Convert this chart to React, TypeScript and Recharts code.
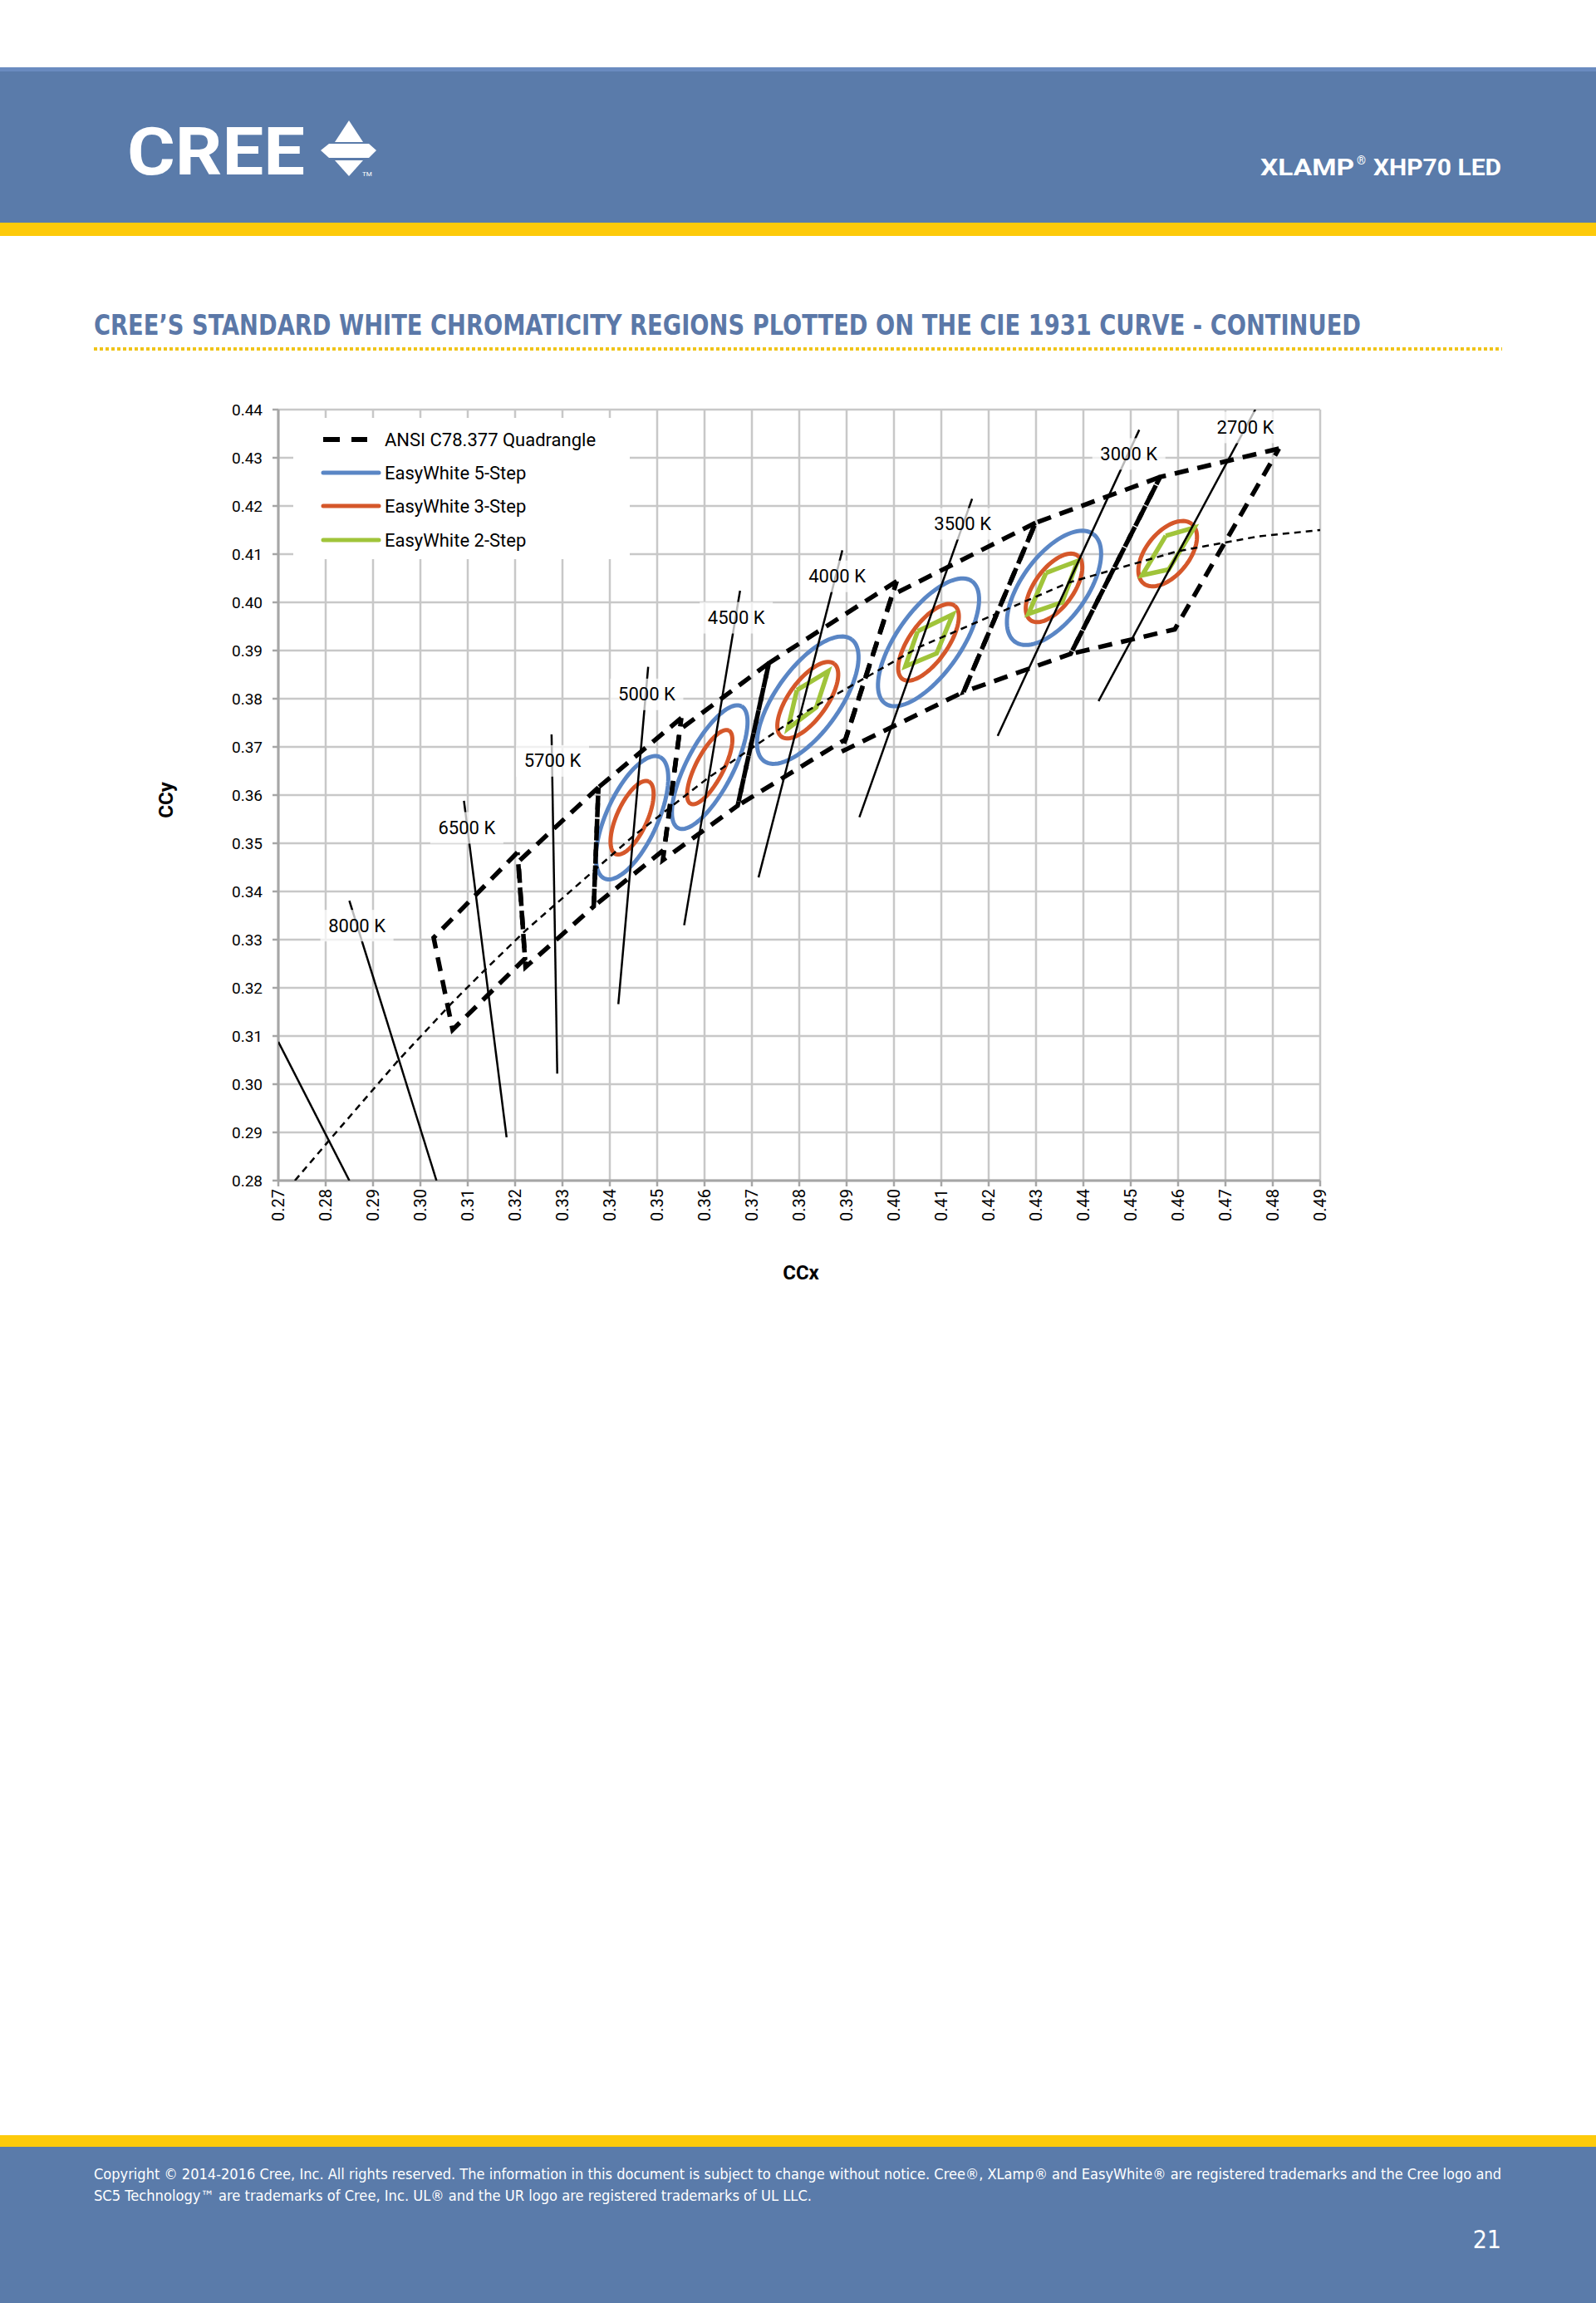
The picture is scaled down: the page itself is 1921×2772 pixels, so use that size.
import React from 'react';
import { ScatterChart, Scatter, XAxis, YAxis, CartesianGrid } from 'recharts';

// ---------- axis ticks ----------
const xTicks = [0.27, 0.28, 0.29, 0.30, 0.31, 0.32, 0.33, 0.34, 0.35, 0.36, 0.37, 0.38, 0.39, 0.40, 0.41, 0.42, 0.43, 0.44, 0.45, 0.46, 0.47, 0.48, 0.49];
const yTicks = [0.28, 0.29, 0.30, 0.31, 0.32, 0.33, 0.34, 0.35, 0.36, 0.37, 0.38, 0.39, 0.40, 0.41, 0.42, 0.43, 0.44];

// ---------- ANSI C78.377 quadrangles (corners: x, y) ----------
const quad6500 = [[0.3205, 0.3481], [0.3028, 0.3304], [0.3068, 0.3113], [0.3221, 0.3261]];
const quad5700 = [[0.3376, 0.3616], [0.3207, 0.3462], [0.3222, 0.3243], [0.3366, 0.3369]];
const quad5000 = [[0.3551, 0.3760], [0.3376, 0.3616], [0.3366, 0.3369], [0.3515, 0.3487]];
const quad4500 = [[0.3736, 0.3874], [0.3548, 0.3736], [0.3512, 0.3465], [0.3670, 0.3578]];
const quad4000 = [[0.4006, 0.4044], [0.3736, 0.3874], [0.3670, 0.3578], [0.3898, 0.3716]];
const quad3500 = [[0.4299, 0.4165], [0.3996, 0.4015], [0.3889, 0.3690], [0.4147, 0.3814]];
const quad3000 = [[0.4562, 0.4260], [0.4299, 0.4165], [0.4147, 0.3814], [0.4373, 0.3893]];
const quad2700 = [[0.4813, 0.4319], [0.4562, 0.4260], [0.4373, 0.3893], [0.4593, 0.3944]];
const ansiQuads = [quad6500, quad5700, quad5000, quad4500, quad4000, quad3500, quad3000, quad2700];

// ---------- isotherm (CCT) lines: [x1, y1, x2, y2] ----------
const iso10000 = [0.2700, 0.3088, 0.2850, 0.2800];
const iso8000 = [0.2850, 0.3381, 0.3034, 0.2800];
const iso6500 = [0.3092, 0.3588, 0.3182, 0.2890];
const iso5700 = [0.3277, 0.3726, 0.3289, 0.3022];
const iso5000 = [0.3481, 0.3866, 0.3418, 0.3166];
const iso4500 = [0.3675, 0.4024, 0.3557, 0.3330];
const iso4000 = [0.3891, 0.4108, 0.3714, 0.3429];
const iso3500 = [0.4165, 0.4215, 0.3927, 0.3554];
const iso3000 = [0.4518, 0.4358, 0.4219, 0.3723];
const iso2700 = [0.4763, 0.4400, 0.4432, 0.3795];
const isoLines = [iso10000, iso8000, iso6500, iso5700, iso5000, iso4500, iso4000, iso3500, iso3000, iso2700];

// ---------- Planckian (black body) locus ----------
const planckX = [0.2735, 0.2807, 0.2952, 0.3064, 0.3135, 0.3221, 0.3451, 0.3608, 0.3805, 0.4053, 0.4369, 0.4599, 0.4770, 0.4900];
const planckY = [0.2800, 0.2883, 0.3048, 0.3166, 0.3236, 0.3318, 0.3516, 0.3636, 0.3768, 0.3907, 0.4041, 0.4106, 0.4137, 0.4150];

// ---------- EasyWhite ellipses: center, semi-axes, tilt (deg) ----------
const fiveStepCx = [0.3447, 0.3611, 0.3818, 0.4073, 0.4338];
const fiveStepCy = [0.3553, 0.3658, 0.3797, 0.3917, 0.4030];
const fiveStepA = [0.0139, 0.0143, 0.01565, 0.01565, 0.0139];
const fiveStepB = [0.0054, 0.0049, 0.0067, 0.0067, 0.0068];
const fiveStepAngle = [65, 62, 53.7, 54, 53.2];

const threeStepCx = [0.3447, 0.3611, 0.3818, 0.4073, 0.4338, 0.4578];
const threeStepCy = [0.3553, 0.3658, 0.3797, 0.3917, 0.4030, 0.4101];
const threeStepA = [0.0083, 0.0086, 0.00939, 0.00939, 0.00834, 0.0080];
const threeStepB = [0.0032, 0.0029, 0.00402, 0.00402, 0.00408, 0.0045];
const threeStepAngle = [65, 62, 53.7, 54, 53.2, 50];

// ---------- EasyWhite 2-step quadrangles ----------
const twoStep4000 = [[0.3795, 0.3818], [0.3861, 0.3857], [0.3836, 0.3782], [0.3776, 0.3738]];
const twoStep3500 = [[0.4050, 0.3940], [0.4124, 0.3975], [0.4090, 0.3894], [0.4024, 0.3867]];
const twoStep3000 = [[0.4321, 0.4061], [0.4388, 0.4086], [0.4355, 0.4000], [0.4284, 0.3976]];
const twoStep2700 = [[0.4574, 0.4138], [0.4634, 0.4155], [0.4580, 0.4068], [0.4524, 0.4056]];
const twoStepQuads = [twoStep4000, twoStep3500, twoStep3000, twoStep2700];

// ---------- CCT labels ----------
const cctLabels = ['8000 K', '6500 K', '5700 K', '5000 K', '4500 K', '4000 K', '3500 K', '3000 K', '2700 K'];
const cctLabelX = [0.2866, 0.3098, 0.3279, 0.3478, 0.3667, 0.3880, 0.4145, 0.4496, 0.4742];
const cctLabelY = [0.3329, 0.3532, 0.3671, 0.3809, 0.3968, 0.4054, 0.4163, 0.4308, 0.4363];

// ---------- colours / fonts ----------
const BLUE = '#5A86C5';
const ORANGE = '#D5572A';
const GREEN = '#A0C43A';
const HEADER_BLUE = '#5A7BAA';
const YELLOW = '#FDCA0B';
const FONT = "Roboto, 'Liberation Sans', Arial, sans-serif";
const NARROW = "'Liberation Sans Narrow', 'DejaVu Sans Condensed', Roboto, sans-serif";

const toPts = (arr: number[][], close = true) => {
  const p = arr.map(([x, y]) => ({ x, y }));
  if (close) p.push({ x: arr[0][0], y: arr[0][1] });
  return p;
};

const ellipseOutline = (cx: number, cy: number, a: number, b: number, angle: number) => {
  const th = (angle * Math.PI) / 180;
  const pts: { x: number; y: number }[] = [];
  const n = 90;
  for (let i = 0; i <= n; i++) {
    const t = (i / n) * 2 * Math.PI;
    pts.push({
      x: cx + a * Math.cos(th) * Math.cos(t) - b * Math.sin(th) * Math.sin(t),
      y: cy + a * Math.sin(th) * Math.cos(t) + b * Math.cos(th) * Math.sin(t),
    });
  }
  return pts;
};

const fiveStepData = fiveStepCx.map((cx, i) => ellipseOutline(cx, fiveStepCy[i], fiveStepA[i], fiveStepB[i], fiveStepAngle[i]));
const threeStepData = threeStepCx.map((cx, i) => ellipseOutline(cx, threeStepCy[i], threeStepA[i], threeStepB[i], threeStepAngle[i]));
const planckData = planckX.map((x, i) => ({ x, y: planckY[i] }));
const labelData = cctLabels.map((label, i) => ({ x: cctLabelX[i], y: cctLabelY[i], label }));

const Empty = () => <g />;

const LabelShape = (props: any) => {
  const { cx, cy, payload } = props;
  return (
    <g>
      <rect x={cx - 44} y={cy - 19} width={88} height={38} fill="#ffffff" fillOpacity={0.72} />
      <text x={cx} y={cy} textAnchor="middle" dominantBaseline="central" fontSize={22} fontFamily={FONT} fill="#000">
        {payload.label}
      </text>
    </g>
  );
};

const XTick = (props: any) => {
  const { x, y, payload } = props;
  return (
    <text
      x={x}
      y={y}
      transform={`rotate(-90 ${x} ${y})`}
      textAnchor="end"
      dominantBaseline="central"
      fontSize={20}
      fontFamily={FONT}
      fill="#000"
    >
      {Number(payload.value).toFixed(2)}
    </text>
  );
};

const YTick = (props: any) => {
  const { x, y, payload } = props;
  return (
    <text x={x} y={y} textAnchor="end" dominantBaseline="central" fontSize={19} fontFamily={FONT} fill="#000">
      {Number(payload.value).toFixed(2)}
    </text>
  );
};

const Chart = () => (
  <ScatterChart width={1459} height={1041} margin={{ top: 23, right: 20, bottom: 0, left: 0 }}>
    <CartesianGrid stroke="#C8C8C8" strokeWidth={2.5} />
    <XAxis
      type="number"
      dataKey="x"
      domain={[0.27, 0.49]}
      ticks={xTicks}
      interval={0}
      allowDataOverflow
      height={90}
      tickSize={7}
      tickMargin={3}
      tick={<XTick />}
      axisLine={{ stroke: '#A6A6A6', strokeWidth: 3 }}
      tickLine={{ stroke: '#A6A6A6', strokeWidth: 2.5 }}
    />
    <YAxis
      type="number"
      dataKey="y"
      domain={[0.28, 0.44]}
      ticks={yTicks}
      interval={0}
      allowDataOverflow
      width={185}
      tickSize={7}
      tickMargin={12}
      tick={<YTick />}
      axisLine={{ stroke: '#A6A6A6', strokeWidth: 3 }}
      tickLine={{ stroke: '#A6A6A6', strokeWidth: 2.5 }}
    />
    {fiveStepData.map((d, i) => (
      <Scatter key={`b${i}`} data={d} fill="none" shape={<Empty />} line={{ stroke: BLUE, strokeWidth: 5, fill: 'none' }} isAnimationActive={false} legendType="none" />
    ))}
    {threeStepData.map((d, i) => (
      <Scatter key={`o${i}`} data={d} fill="none" shape={<Empty />} line={{ stroke: ORANGE, strokeWidth: 5, fill: 'none' }} isAnimationActive={false} legendType="none" />
    ))}
    {twoStepQuads.map((q, i) => (
      <Scatter key={`g${i}`} data={toPts(q)} fill="none" shape={<Empty />} line={{ stroke: GREEN, strokeWidth: 5.5, fill: 'none', strokeLinejoin: 'miter' }} isAnimationActive={false} legendType="none" />
    ))}
    {ansiQuads.map((q, i) => (
      <Scatter key={`q${i}`} data={toPts(q)} fill="none" shape={<Empty />} line={{ stroke: '#000', strokeWidth: 5.5, strokeDasharray: '17 11', fill: 'none' }} isAnimationActive={false} legendType="none" />
    ))}
    {isoLines.map((l, i) => (
      <Scatter key={`i${i}`} data={[{ x: l[0], y: l[1] }, { x: l[2], y: l[3] }]} fill="none" shape={<Empty />} line={{ stroke: '#000', strokeWidth: 2.5, fill: 'none' }} isAnimationActive={false} legendType="none" />
    ))}
    <Scatter data={planckData} fill="none" shape={<Empty />} line={{ stroke: '#000', strokeWidth: 2.5, strokeDasharray: '8 6', fill: 'none' }} isAnimationActive={false} legendType="none" />
    <Scatter data={labelData} fill="#000" shape={<LabelShape />} isAnimationActive={false} legendType="none" />
  </ScatterChart>
);

const legendRows = [
  { label: 'ANSI C78.377 Quadrangle', color: '#000', dash: '20 14' },
  { label: 'EasyWhite 5-Step', color: BLUE, dash: undefined },
  { label: 'EasyWhite 3-Step', color: ORANGE, dash: undefined },
  { label: 'EasyWhite 2-Step', color: GREEN, dash: undefined },
];
const legendRowY = [26, 66, 106, 147];

const ChartLegend = () => (
  <div style={{ position: 'absolute', left: 353, top: 503, width: 405, height: 170, background: '#fff' }}>
    <svg width={405} height={170}>
      {legendRows.map((r, i) => (
        <g key={r.label}>
          <line
            x1={36}
            x2={r.dash ? 89 : 103}
            y1={legendRowY[i]}
            y2={legendRowY[i]}
            stroke={r.color}
            strokeWidth={r.dash ? 6 : 5}
            strokeDasharray={r.dash}
            strokeLinecap={r.dash ? 'butt' : 'round'}
          />
          <text x={110} y={legendRowY[i]} dominantBaseline="central" fontSize={22} fontFamily={FONT} fill="#000">
            {r.label}
          </text>
        </g>
      ))}
    </svg>
  </div>
);

const Page = () => (
  <svg width={1921} height={2772} style={{ position: 'absolute', left: 0, top: 0 }}>
    <rect x={0} y={0} width={1921} height={2772} fill="#fff" />
    {/* header */}
    <rect x={0} y={81} width={1921} height={187} fill={HEADER_BLUE} />
    <rect x={0} y={81} width={1921} height={5} fill="#6A8BC0" />
    <rect x={0} y={268} width={1921} height={16} fill={YELLOW} />
    <text x={153} y={210} fontSize={80} fontWeight={700} fontFamily={FONT} fill="#fff" textLength={214} lengthAdjust="spacingAndGlyphs">
      CREE
    </text>
    <polygon points="420,145 437,171 403,171" fill="#fff" />
    <polygon points="386,181 396,173 444,173 453,181 444,190 396,190" fill="#fff" />
    <polygon points="403,193 437,193 420,212" fill="#fff" />
    <text x={436} y={212} fontSize={8} fontFamily={FONT} fill="#fff">TM</text>
    <text x={1517} y={211} fontSize={27} fontWeight={700} fontFamily={FONT} fill="#fff" textLength={113} lengthAdjust="spacingAndGlyphs">
      XLAMP
    </text>
    <text x={1633} y={198} fontSize={14} fontFamily={FONT} fill="#fff">®</text>
    <text x={1653} y={211} fontSize={27} fontWeight={700} fontFamily={FONT} fill="#fff" textLength={154} lengthAdjust="spacingAndGlyphs">
      XHP70 LED
    </text>
    {/* title */}
    <text x={113} y={403} fontSize={33} fontWeight={700} fontFamily={NARROW} fill="#5B78A8" textLength={1525} lengthAdjust="spacingAndGlyphs">
      CREE’S STANDARD WHITE CHROMATICITY REGIONS PLOTTED ON THE CIE 1931 CURVE - CONTINUED
    </text>
    <line x1={113} x2={1808} y1={420} y2={420} stroke="#F0C419" strokeWidth={4} strokeDasharray="4 3" />
    {/* axis titles */}
    <text x={200} y={963} transform="rotate(-90 200 963)" textAnchor="middle" dominantBaseline="central" fontSize={24} fontWeight={700} fontFamily={FONT} fill="#000">
      CCy
    </text>
    <text x={964} y={1532} textAnchor="middle" dominantBaseline="central" fontSize={24} fontWeight={700} fontFamily={FONT} fill="#000">
      CCx
    </text>
    {/* footer */}
    <rect x={0} y={2570} width={1921} height={14} fill={YELLOW} />
    <rect x={0} y={2584} width={1921} height={188} fill={HEADER_BLUE} />
    <text x={113} y={2623} fontSize={17} fontFamily={NARROW} fill="#fff" textLength={1694} lengthAdjust="spacingAndGlyphs">
      Copyright © 2014-2016 Cree, Inc. All rights reserved. The information in this document is subject to change without notice. Cree®, XLamp® and EasyWhite® are registered trademarks and the Cree logo and
    </text>
    <text x={113} y={2649} fontSize={17} fontFamily={NARROW} fill="#fff" textLength={864} lengthAdjust="spacingAndGlyphs">
      SC5 Technology™ are trademarks of Cree, Inc. UL® and the UR logo are registered trademarks of UL LLC.
    </text>
    <text x={1807} y={2706} textAnchor="end" fontSize={30} fontFamily={NARROW} fill="#fff">
      21
    </text>
  </svg>
);

export default function App() {
  return (
    <div style={{ position: 'absolute', left: 0, top: 0, width: 1921, height: 2772, overflow: 'hidden', background: '#fff' }}>
      <Page />
      <div style={{ position: 'absolute', left: 150, top: 470 }}>
        <Chart />
      </div>
      <ChartLegend />
    </div>
  );
}
